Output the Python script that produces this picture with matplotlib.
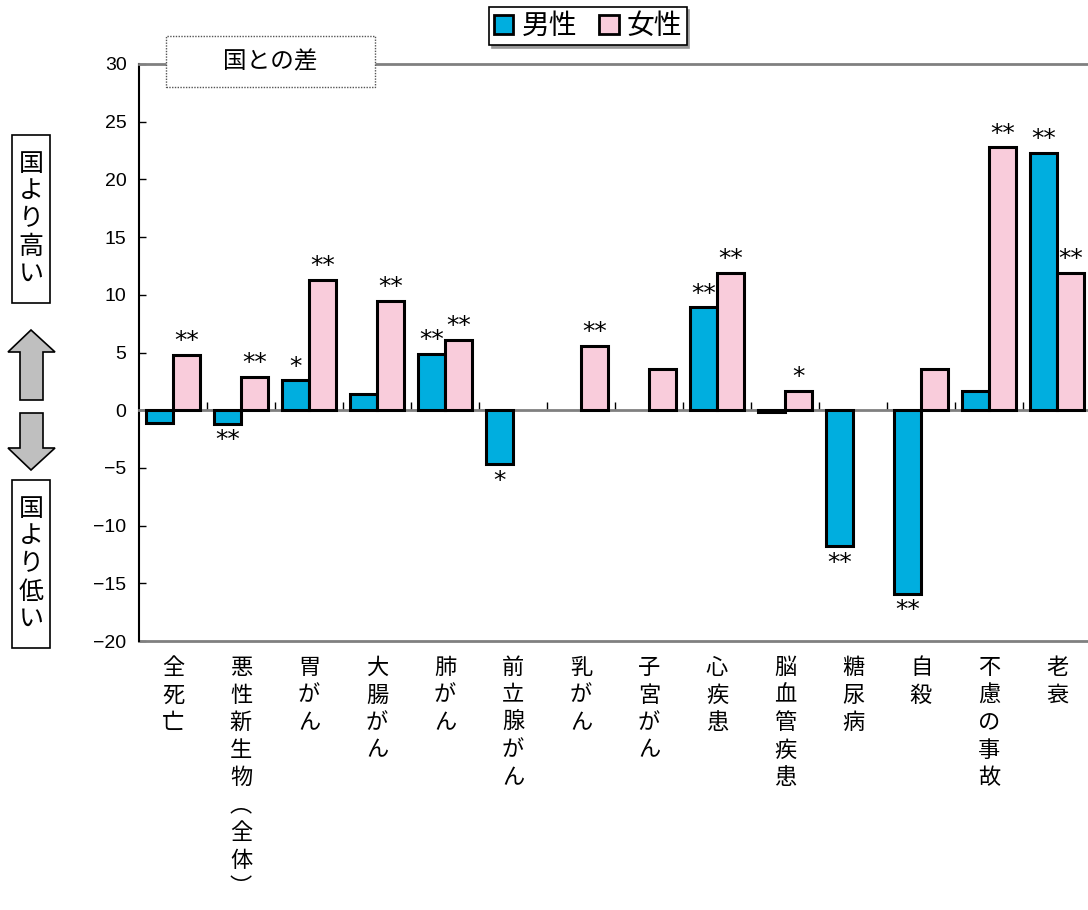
import numpy as np
import matplotlib
matplotlib.use('Agg')
import matplotlib.pyplot as plt
from matplotlib.patches import Rectangle, Polygon, Patch
from matplotlib.lines import Line2D

plt.rcParams['font.family'] = ['Noto Sans CJK JP', 'DejaVu Sans']

# data
categories = ['全死亡', '悪性新生物︵全体︶', '胃がん', '大腸がん', '肺がん', '前立腺がん', '乳がん',
              '子宮がん', '心疾患', '脳血管疾患', '糖尿病', '自殺', '不慮の事故', '老衰']
male = [-1.1, -1.2, 2.6, 1.4, 4.9, -4.7, np.nan, np.nan, 8.9, -0.15, -11.8, -15.9, 1.7, 22.3]
female = [4.8, 2.9, 11.3, 9.5, 6.1, np.nan, 5.6, 3.6, 11.9, 1.7, np.nan, 3.6, 22.8, 11.9]
male_sig = ['', '**', '*', '', '**', '*', '', '', '**', '', '**', '**', '', '**']
female_sig = ['**', '**', '**', '**', '**', '', '**', '', '**', '*', '', '', '**', '**']
yticks = [-20, -15, -10, -5, 0, 5, 10, 15, 20, 25, 30]

blue = '#00AEDF'
pink = '#F9CCDB'
W, H = 1088, 910

def fx(x):
    return x / W

def fy(y):
    return 1 - y / H

fig = plt.figure(figsize=(W / 100, H / 100), dpi=100)
ax = fig.add_axes([fx(139), fy(641), fx(1091) - fx(139), fy(64) - fy(641)])

x = np.arange(len(categories))
bw = 0.4
ax.bar(x - bw / 2, male, bw, color=blue, edgecolor='black', linewidth=2.2, zorder=3)
ax.bar(x + bw / 2, female, bw, color=pink, edgecolor='black', linewidth=2.2, zorder=3)

# significance marks
for i in range(len(categories)):
    for vals, sig, off in ((male, male_sig, -bw / 2), (female, female_sig, bw / 2)):
        v = vals[i]
        if sig[i] == '' or np.isnan(v):
            continue
        if v >= 0:
            ax.annotate(sig[i], (x[i] + off, v), xytext=(0, 1), textcoords='offset points',
                        ha='center', va='bottom', fontsize=18, family='DejaVu Sans')
        else:
            ax.annotate(sig[i], (x[i] + off, v), xytext=(0, -3), textcoords='offset points',
                        ha='center', va='top', fontsize=18, family='DejaVu Sans')

ax.set_xlim(-0.5, len(categories) - 0.5)
ax.set_ylim(-20, 30)
ax.set_yticks(yticks)
ax.set_yticklabels([str(t).replace('-', '\u2212') for t in yticks],
                   family=['Liberation Sans', 'DejaVu Sans'], fontsize=14)
ax.tick_params(axis='y', direction='in', length=5, width=1, pad=9)

ax.set_xticks(x[:-1] + 0.5)
ax.set_xticklabels([])
ax.tick_params(axis='x', direction='in', length=6, width=1, color='black')

ax.spines['bottom'].set_position(('data', 0))
ax.spines['bottom'].set_color('#808080')
ax.spines['bottom'].set_linewidth(2)
ax.spines['top'].set_color('#808080')
ax.spines['top'].set_linewidth(2)
ax.spines['right'].set_color('#808080')
ax.spines['left'].set_linewidth(1.5)
ax.add_line(Line2D([0, 1], [0, 0], transform=ax.transAxes, color='#808080', lw=2, clip_on=False))

# vertical category labels
for i, c in enumerate(categories):
    ax.text(x[i], -0.026, '\n'.join(c), transform=ax.get_xaxis_transform(),
            ha='center', va='top', fontsize=16, linespacing=1.25)

# header box
fig.add_artist(Rectangle((fx(166), fy(87)), fx(375) - fx(166), fy(36) - fy(87),
                         transform=fig.transFigure, facecolor='white', edgecolor='#555555',
                         linestyle=(0, (1, 1)), lw=1, zorder=5))
fig.text(fx(270), fy(62), '国との差', ha='center', va='center', fontsize=17, zorder=6)

# legend
handles = [Patch(facecolor=blue, edgecolor='black', lw=2, label='男性'),
           Patch(facecolor=pink, edgecolor='black', lw=2, label='女性')]
fig.legend(handles=handles, loc='upper center', bbox_to_anchor=(fx(588), fy(7)), ncol=2,
           fontsize=20, frameon=True, fancybox=False, edgecolor='black', handlelength=0.7,
           handleheight=0.7, handletextpad=0.3, columnspacing=0.8, borderpad=0.15,
           borderaxespad=0, shadow={'color': '#999999', 'alpha': 1})
fig.legends[0].get_frame().set_linewidth(1.2)

# left side annotations
for top, bot, txt in ((135, 303, '国より高い'), (480, 648, '国より低い')):
    fig.add_artist(Rectangle((fx(12), fy(bot)), fx(50) - fx(12), fy(top) - fy(bot),
                             transform=fig.transFigure, facecolor='white', edgecolor='black', lw=1.2))
    fig.text(fx(31), fy((top + bot) / 2), '\n'.join(txt), ha='center', va='center',
             fontsize=18, linespacing=1.08)

up = [(31, 330), (55, 352), (43, 352), (43, 400), (20, 400), (20, 352), (8, 352)]
down = [(20, 413), (43, 413), (43, 448), (55, 448), (31, 470), (8, 448), (20, 448)]
for pts in (up, down):
    fig.add_artist(Polygon([(fx(a), fy(b)) for a, b in pts], closed=True,
                           transform=fig.transFigure, facecolor='#BFBFBF', edgecolor='black', lw=1.2))

fig.savefig('out.png', dpi=100)
